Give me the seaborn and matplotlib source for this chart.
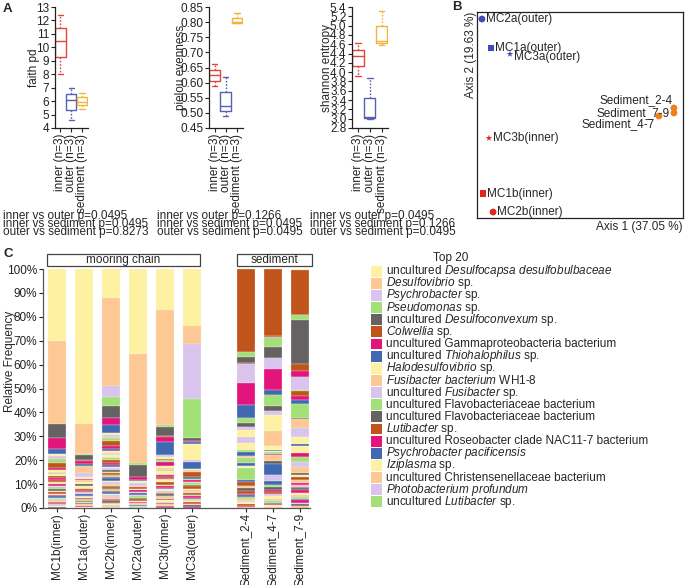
import numpy as np
import pandas as pd
import seaborn as sns
import matplotlib.pyplot as plt
from matplotlib.patches import Rectangle
from matplotlib.ticker import PercentFormatter

W, H = 685, 585

# ---------------- A: alpha diversity, three samples per group
groups = ['inner', 'outer', 'sediment']
group_ticks = ['inner (n=3)', 'outer (n=3)', 'sediment (n=3)']
faith_pd = {'inner': [8.0, 10.5, 12.4], 'outer': [4.6, 6.05, 6.95], 'sediment': [5.4, 5.95, 6.6]}
pielou = {'inner': [0.588, 0.626, 0.66], 'outer': [0.49, 0.522, 0.617], 'sediment': [0.797, 0.80, 0.83]}
shannon = {'inner': [3.92, 4.35, 4.62], 'outer': [3.0, 3.03, 3.88], 'sediment': [4.58, 4.68, 5.31]}

pvals_faith = ['inner vs outer p=0.0495', 'inner vs sediment p=0.0495', 'outer vs sediment p=0.8273']
pvals_pielou = ['inner vs outer p=0.1266', 'inner vs sediment p=0.0495', 'outer vs sediment p=0.0495']
pvals_shannon = ['inner vs outer p=0.0495', 'inner vs sediment p=0.1266', 'outer vs sediment p=0.0495']

# ---------------- B: PCoA (no ticks shown, positions read relative to the frame)
pc_samples = ['MC2a(outer)', 'MC1a(outer)', 'MC3a(outer)', 'MC3b(inner)', 'MC1b(inner)',
              'MC2b(inner)', 'Sediment_2-4', 'Sediment_4-7', 'Sediment_7-9']
pc_axis1 = [0.024, 0.068, 0.160, 0.058, 0.029, 0.078, 0.956, 0.883, 0.956]
pc_axis2 = [0.966, 0.825, 0.796, 0.388, 0.117, 0.029, 0.534, 0.495, 0.510]
pc_group = ['outer', 'outer', 'outer', 'inner', 'inner', 'inner', 'sediment', 'sediment', 'sediment']
pc_chain = ['MC2', 'MC1', 'MC3', 'MC3', 'MC1', 'MC2', 'Sed', 'Sed', 'Sed']

# ---------------- C: relative frequency, segments listed top -> bottom
samples = ['MC1b(inner)', 'MC1a(outer)', 'MC2b(inner)', 'MC2a(outer)', 'MC3b(inner)',
           'MC3a(outer)', 'Sediment_2-4', 'Sediment_4-7', 'Sediment_7-9']

mc1b_codes = "YPKMBYLGRMYPGYRM" + "RPYMLGKPRYMBLGPRMLYK"
mc1b_vals = [29.7, 34.6, 5.9, 4.4, 2.1, 0.8, 1.0, 1.8, 2.0, 1.1, 0.7, 0.6, 0.4, 0.8, 0.5, 0.9,
             0.8, 0.6, 0.5, 0.7, 0.6, 0.6, 0.7, 0.6, 0.7, 0.5, 0.6, 0.5, 0.6, 0.5, 0.6, 0.6, 0.5, 0.5, 0.6, 0.4]
mc1a_codes = "YPGKRMBPLYMPYKYP" + "RMLBPYMGRLKPMY"
mc1a_vals = [64.9, 12.2, 0.7, 2.1, 0.3, 1.4, 0.6, 2.8, 1.8, 0.8, 0.5, 0.9, 0.6, 1.2, 0.5, 0.6,
             0.6, 0.7, 0.6, 0.8, 0.5, 0.5, 0.6, 0.5, 0.6, 0.5, 0.5, 0.6, 0.4, 0.5]
mc2b_codes = "YPLGKMBYLPGRMBYPL" + "YPGRMBYLKPRGMBYLPKRGMBYLPRMKGYPL"
mc2b_vals = [12.3, 37.2, 4.3, 4.1, 4.7, 3.1, 3.3, 0.8, 0.8, 0.6, 1.4, 2.1, 1.2, 0.8, 0.7, 0.6, 0.5,
             0.7, 0.6, 0.7, 1.1, 0.8, 0.9, 0.6, 0.7, 0.8, 0.6, 0.9, 0.7, 0.6, 1.0, 0.6, 0.7,
             0.8, 0.7, 0.8, 0.6, 0.7, 0.7, 0.6, 0.6, 0.7, 0.6, 0.6, 0.5, 0.6, 0.6, 0.6, 0.5]
mc2a_codes = "YPGKMBYLP" + "RYMPBLGKRYMPBLG"
mc2a_vals = [35.3, 45.5, 0.8, 5.3, 1.0, 0.4, 0.8, 1.4, 0.6,
             0.6, 0.5, 0.7, 0.6, 0.8, 0.5, 0.6, 0.7, 0.6, 0.5, 0.6, 0.5, 0.5, 0.4, 0.5]
mc3b_codes = "YPGKRMBLYRGMYP" + "GYPMRLYRPMBYLRKGPMYLRPKM"
mc3b_vals = [17.4, 48.0, 1.1, 3.9, 0.4, 2.0, 5.6, 0.8, 0.6, 0.7, 0.5, 2.0, 0.8, 0.7,
             0.6, 0.9, 0.6, 1.0, 0.7, 0.6, 0.7, 1.2, 0.6, 0.7, 0.6, 0.6, 0.7, 0.8, 0.6, 0.6,
             0.7, 0.6, 0.6, 0.5, 0.6, 0.5, 0.5, 0.5]
mc3a_codes = "YPLGKMBYLBYPRBG" + "MPGKRYPLRGMBPYRLKM"
mc3a_vals = [23.8, 7.7, 22.9, 16.2, 1.2, 0.6, 0.5, 7.0, 0.8, 2.9, 0.3, 0.8, 2.1, 0.8, 0.6,
             0.6, 0.7, 0.6, 0.7, 0.9, 0.5, 0.8, 0.6, 0.7, 0.6, 0.7, 0.5, 0.8, 0.6, 0.7, 0.5, 0.6, 0.5]
sed24_codes = "RGKRLMBGKLYLYGBPGBY" + "GBRPKRMBGPLYRMP"
sed24_vals = [34.7, 2.1, 2.5, 0.4, 8.1, 9.1, 5.3, 2.4, 1.7, 1.1, 3.1, 2.5, 2.8, 1.0, 1.7, 0.8, 1.8, 1.3, 0.8,
              5.2, 1.0, 1.4, 0.8, 1.5, 1.0, 0.6, 0.7, 0.8, 0.9, 0.6, 0.7, 0.7, 0.5, 0.5]
sed47_codes = "RMGKLMBGKLYPYBYGMPKBLB" + "GKMRLYPGBMYP"
sed47_vals = [28.0, 0.5, 4.0, 4.6, 4.7, 8.8, 2.1, 4.6, 2.1, 1.7, 6.7, 6.3, 1.7, 0.5, 0.4, 0.6, 0.6,
              2.4, 1.4, 4.6, 2.4, 1.8,
              0.8, 1.2, 1.0, 0.8, 0.7, 1.2, 0.9, 0.6, 0.5, 0.6, 0.6, 0.6]
sed79_codes = "YRMGKRMLGRMBGKPLYBYMGLPK" + "YRPMLRKMYPGBMLKP"
sed79_vals = [0.6, 18.6, 0.3, 2.0, 18.5, 2.8, 2.4, 5.7, 0.4, 2.0, 1.7, 1.8, 5.6, 0.7, 3.5, 3.8, 2.9,
              1.0, 2.8, 1.8, 2.1, 2.1, 2.5, 1.0,
              0.8, 1.0, 1.2, 1.0, 0.8, 0.7, 0.8, 1.0, 0.8, 1.1, 0.7, 0.6, 0.9, 0.8, 0.6, 0.9]

legend_labels = [
    r'uncultured $\mathit{Desulfocapsa\ desulfobulbaceae}$',
    r'$\mathit{Desulfovibrio}$ sp.',
    r'$\mathit{Psychrobacter}$ sp.',
    r'$\mathit{Pseudomonas}$ sp.',
    r'uncultured $\mathit{Desulfoconvexum}$ sp.',
    r'$\mathit{Colwellia}$ sp.',
    'uncultured Gammaproteobacteria bacterium',
    r'uncultured $\mathit{Thiohalophilus}$ sp.',
    r'$\mathit{Halodesulfovibrio}$ sp.',
    r'$\mathit{Fusibacter\ bacterium}$ WH1-8',
    r'uncultured $\mathit{Fusibacter}$ sp.',
    'uncultured Flavobacteriaceae bacterium',
    'uncultured Flavobacteriaceae bacterium',
    r'$\mathit{Lutibacter}$ sp.',
    'uncultured Roseobacter clade NAC11-7 bacterium',
    r'$\mathit{Psychrobacter\ pacificensis}$',
    r'$\mathit{Iziplasma}$ sp.',
    'uncultured Christensenellaceae bacterium',
    r'$\mathit{Photobacterium\ profundum}$',
    r'uncultured $\mathit{Lutibacter}$ sp.',
]
legend_codes = "YPLGKRMB" * 2 + "YPLG"

# ---------------- styling
taxon_colors = {'Y': '#fef2a2', 'P': '#fdc893', 'L': '#d9c4ed', 'G': '#a3e077',
                'K': '#666262', 'R': '#c1541a', 'M': '#e3147b', 'B': '#4169b1'}
box_colors = {'inner': '#e0463c', 'outer': '#5860b6', 'sediment': '#f2b43a'}
pc_colors = {'inner': '#e3261f', 'outer': '#3f4cb3', 'sediment': '#f07f1c'}
pc_markers = {'MC1': 's', 'MC2': 'o', 'MC3': '*', 'Sed': 'o'}
label_offsets = {  # points
    'MC2a(outer)': (3, 0, 'left'), 'MC1a(outer)': (3, 0, 'left'), 'MC3a(outer)': (3, -2.5, 'left'),
    'MC3b(inner)': (3, 0, 'left'), 'MC1b(inner)': (3, 0, 'left'), 'MC2b(inner)': (3, 0, 'left'),
    'Sediment_2-4': (-1, 5.5, 'right'), 'Sediment_7-9': (-3, 0, 'right'), 'Sediment_4-7': (-3, -6, 'right'),
}

sns.set_theme(style='ticks')
plt.rcParams['font.family'] = ['Liberation Sans', 'DejaVu Sans']
plt.rcParams['mathtext.fontset'] = 'custom'
plt.rcParams['mathtext.rm'] = 'Liberation Sans'
plt.rcParams['mathtext.it'] = 'Liberation Sans:italic'
plt.rcParams['font.size'] = 8.5
FS = 8.5
DARK = '#222222'


def px_axes(fig, left, top, right, bottom):
    return fig.add_axes([left / W, 1 - bottom / H, (right - left) / W, (bottom - top) / H])


fig = plt.figure(figsize=(W / 100, H / 100), dpi=100)

# ---- panel A
panels = [
    (faith_pd, 'faith pd', (55, 88), (4, 13), np.arange(4, 13.01, 1), '{:.0f}', -0.45, pvals_faith, 3),
    (pielou, 'pielou evenness', (209, 243), (0.45, 0.85), np.arange(0.45, 0.851, 0.05), '{:.2f}', -0.66, pvals_pielou, 157),
    (shannon, 'shannon entropy', (352, 388), (2.8, 5.4), np.arange(2.8, 5.401, 0.2), '{:.1f}', -0.52, pvals_shannon, 310),
]
for values, ylabel, (x0, x1), ylim, ticks, fmt, labx, pv, ptx in panels:
    ax = px_axes(fig, x0, 7, x1, 128)
    df = pd.DataFrame([(g, v) for g in groups for v in values[g]], columns=['group', 'value'])
    sns.boxplot(data=df, x='group', y='value', hue='group', order=groups, hue_order=groups,
                palette=box_colors, fill=False, width=0.95, whis=(0, 100), linewidth=1,
                whiskerprops={'linestyle': (0, (1.2, 1.2))}, legend=False, ax=ax)
    ax.set_ylim(*ylim)
    ax.set_xlim(-0.5, 2.55)
    ax.set_yticks(ticks)
    ax.set_yticklabels([fmt.format(t) for t in ticks], fontsize=FS)
    ax.set_xticks(range(3))
    ax.set_xticklabels(group_ticks, rotation=90, fontsize=FS)
    ax.set_xlabel('')
    ax.set_ylabel(ylabel, fontsize=FS)
    ax.yaxis.set_label_coords(labx, 0.5)
    ax.tick_params(length=3, width=0.8, pad=1, colors=DARK)
    sns.despine(ax=ax)
    for s in ['left', 'bottom']:
        ax.spines[s].set_linewidth(0.9)
        ax.spines[s].set_color(DARK)
    for k, line in enumerate(pv):
        fig.text(ptx / W, 1 - (219.5 + 7.5 * k) / H, line, fontsize=FS, va='baseline')

# ---- panel B
axb = px_axes(fig, 477, 12, 683, 218)
pcoa = pd.DataFrame({'sample': pc_samples, 'axis1': pc_axis1, 'axis2': pc_axis2,
                     'group': pc_group, 'chain': pc_chain})
sns.scatterplot(data=pcoa, x='axis1', y='axis2', hue='group', style='chain', markers=pc_markers,
                palette=pc_colors, s=24, linewidth=0, legend=False, ax=axb)
for _, r in pcoa.iterrows():
    dx, dy, ha = label_offsets[r['sample']]
    axb.annotate(r['sample'], (r['axis1'], r['axis2']), xytext=(dx, dy), textcoords='offset points',
                 ha=ha, va='center', fontsize=FS)
axb.set_xlim(0, 1)
axb.set_ylim(0, 1)
axb.set_xticks([])
axb.set_yticks([])
axb.set_xlabel('Axis 1 (37.05 %)', loc='right', fontsize=FS, labelpad=2)
axb.set_ylabel('Axis 2 (19.63 %)', loc='top', fontsize=FS, labelpad=0)
for s in axb.spines.values():
    s.set_linewidth(0.9)
    s.set_color(DARK)

# ---- panel C
axc = px_axes(fig, 43, 269, 310, 508)
bar_pos = [0, 1, 2, 3, 4, 5, 7, 8, 9]
seg_codes = [mc1b_codes, mc1a_codes, mc2b_codes, mc2a_codes, mc3b_codes, mc3a_codes,
             sed24_codes, sed47_codes, sed79_codes]
seg_vals = [mc1b_vals, mc1a_vals, mc2b_vals, mc2a_vals, mc3b_vals, mc3a_vals,
            sed24_vals, sed47_vals, sed79_vals]
for pos, codes, vals in zip(bar_pos, seg_codes, seg_vals):
    v = np.array(vals) / np.sum(vals)
    bottoms = 1 - np.cumsum(v)
    axc.bar([pos] * len(v), v, bottom=bottoms, width=0.67,
            color=[taxon_colors[c] for c in codes], edgecolor='#f4f4f4', linewidth=0.2)
axc.set_xlim(-0.52, 9.37)
axc.set_ylim(0, 1)
axc.set_yticks(np.arange(0, 1.01, 0.1))
axc.yaxis.set_major_formatter(PercentFormatter(1.0, decimals=0))
axc.set_xticks(bar_pos)
axc.set_xticklabels(samples, rotation=90, fontsize=FS)
axc.tick_params(length=3, width=0.8, pad=1, colors=DARK, labelsize=FS)
axc.tick_params(axis='x', pad=0.5)
axc.set_ylabel('Relative Frequency', fontsize=FS)
axc.yaxis.set_label_coords(-0.10, 0.615)
sns.despine(ax=axc)
for s in ['left', 'bottom']:
    axc.spines[s].set_linewidth(0.9)
    axc.spines[s].set_color('#555555')

for (xa, xb), name in [((-0.37, 5.3), 'mooring chain'), ((6.67, 9.44), 'sediment')]:
    axc.add_patch(Rectangle((xa, 1.0126), xb - xa, 0.05, transform=axc.get_xaxis_transform(),
                            facecolor='white', edgecolor='#444444', linewidth=0.9, clip_on=False))
    axc.text((xa + xb) / 2, 1.0376, name, transform=axc.get_xaxis_transform(),
             ha='center', va='center', fontsize=FS)

# ---- legend for C
lax = px_axes(fig, 371, 265, 685, 508)
lax.set_xlim(0, 314)
lax.set_ylim(19.5, -0.5)
lax.axis('off')
for i, (lab, c) in enumerate(zip(legend_labels, legend_codes)):
    lax.add_patch(Rectangle((0, i - 0.45), 11, 0.9, facecolor=taxon_colors[c], edgecolor='none'))
    lax.text(15, i, lab, ha='left', va='center', fontsize=FS)
fig.text(433 / W, 1 - 258 / H, 'Top 20', ha='left', va='center', fontsize=FS)

# ---- panel letters
for letter, (x, y) in {'A': (3, 3), 'B': (452, 1), 'C': (3, 248)}.items():
    fig.text(x / W, 1 - y / H, letter, fontsize=9.5, fontweight='bold', ha='left', va='top')

fig.savefig('out.png', dpi=100)
